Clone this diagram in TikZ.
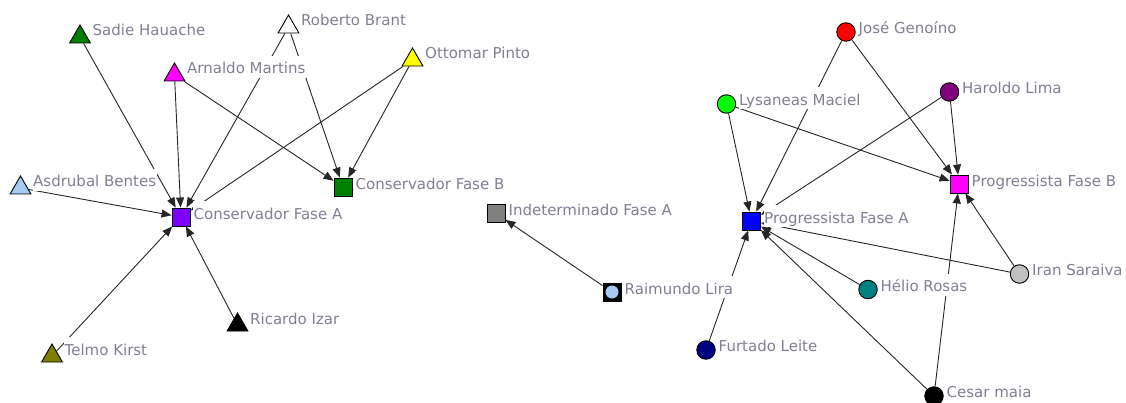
\documentclass[tikz,border=0pt]{standalone}
\usepackage{fontspec}
\setmainfont{DejaVu Sans}
\usetikzlibrary{arrows.meta,shapes.geometric,calc}
\definecolor{labc}{RGB}{128,128,148}
\definecolor{cgreen}{RGB}{0,128,0}
\definecolor{cmag}{RGB}{255,0,255}
\definecolor{cyel}{RGB}{255,255,0}
\definecolor{clblue}{RGB}{166,202,240}
\definecolor{cpurp}{RGB}{128,0,255}
\definecolor{colive}{RGB}{128,128,0}
\definecolor{cgray}{RGB}{128,128,128}
\definecolor{cred}{RGB}{255,0,0}
\definecolor{cviolet}{RGB}{128,0,128}
\definecolor{clime}{RGB}{0,255,0}
\definecolor{cblue}{RGB}{0,0,255}
\definecolor{csilver}{RGB}{192,192,192}
\definecolor{cteal}{RGB}{0,128,128}
\definecolor{cnavy}{RGB}{0,0,128}
\begin{document}
\begin{tikzpicture}[x=1pt,y=-1pt,
  sq/.style={draw=black,line width=0.9pt,rectangle,minimum size=18pt,inner sep=0pt},
  cir/.style={draw=black,line width=0.9pt,circle,minimum size=18.5pt,inner sep=0pt},
  tri/.style={draw=black,line width=0.9pt,regular polygon,regular polygon sides=3,minimum size=24pt,inner sep=0pt},
  lab/.style={anchor=base west,fill=white,text=labc,inner xsep=0.5pt,inner ysep=0pt,text height=18pt,text depth=4pt,font=\fontsize{15}{18}\selectfont},
  edge/.style={draw=black!85,line width=0.9pt,-{Triangle[length=10pt,width=8pt]}}
]
\useasboundingbox (0,0) rectangle (1126,403);
% left cluster
\node[tri,fill=cgreen] (sadie) at (80,37) {};
\node[tri,fill=cmag] (arnaldo) at (174.5,75) {};
\node[tri,fill=white] (roberto) at (288.5,27) {};
\node[tri,fill=cyel] (ottomar) at (412.5,60) {};
\node[tri,fill=clblue] (asdrubal) at (20.5,188) {};
\node[tri,fill=black] (ricardo) at (237.5,325) {};
\node[tri,fill=colive] (telmo) at (52,356) {};
\node[sq,fill=cpurp] (consA) at (181,217) {};
\node[sq,fill=cgreen] (consB) at (343,187) {};
% middle
\node[sq,fill=cgray] (indA) at (496,213.5) {};
\node[sq,fill=black,path picture={\fill[clblue] (path picture bounding box.center) circle (6.5pt);}] (raimundo) at (612,292) {};
% right cluster
\node[cir,fill=cred] (jose) at (846,32) {};
\node[cir,fill=cviolet] (haroldo) at (949.5,92) {};
\node[cir,fill=clime] (lysaneas) at (726.5,104) {};
\node[cir,fill=csilver] (iran) at (1019.5,274) {};
\node[cir,fill=cteal] (helio) at (868,289.5) {};
\node[cir,fill=cnavy] (furtado) at (706,350) {};
\node[cir,fill=black] (cesar) at (934,396) {};
\node[sq,fill=cmag] (progB) at (959,184) {};
\node[sq,fill=cblue] (progA) at (751.5,221) {};
% edges
\draw[edge] (sadie) -- (consA);
\draw[edge] (arnaldo) -- (consA);
\draw[edge] (arnaldo) -- (consB);
\draw[edge] (roberto) -- (consA);
\draw[edge] (roberto) -- (consB);
\draw[edge] (ottomar) -- (consA);
\draw[edge] (ottomar) -- (consB);
\draw[edge] (asdrubal) -- (consA);
\draw[edge] (telmo) -- (consA);
\draw[edge] (ricardo) -- (consA);
\draw[edge] (raimundo) -- (indA);
\draw[edge] (jose) -- (progA);
\draw[edge] (jose) -- (progB);
\draw[edge] (haroldo) -- (progA);
\draw[edge] (haroldo) -- (progB);
\draw[edge] (lysaneas) -- (progA);
\draw[edge] (lysaneas) -- (progB);
\draw[edge] (iran) -- (progA);
\draw[edge] (iran) -- (progB);
\draw[edge] (helio) -- (progA);
\draw[edge] (furtado) -- (progA);
\draw[edge] (cesar) -- (progA);
\draw[edge] (cesar) -- (progB);
% labels
\node[lab] (lsadie) at ($(sadie.center)+(12,-1)$) {Sadie Hauache};
\node[lab] (larnaldo) at ($(arnaldo.center)+(12,-1)$) {Arnaldo Martins};
\node[lab] (lroberto) at ($(roberto.center)+(12,-1)$) {Roberto Brant};
\node[lab] (lottomar) at ($(ottomar.center)+(12,-1)$) {Ottomar Pinto};
\node[lab] (lasdrubal) at ($(asdrubal.center)+(12,-1)$) {Asdrubal Bentes};
\node[lab] (lricardo) at ($(ricardo.center)+(12,-1)$) {Ricardo Izar};
\node[lab] (ltelmo) at ($(telmo.center)+(12,-1)$) {Telmo Kirst};
\node[lab] (lconsA) at ($(consA.center)+(12,2.5)$) {Conservador Fase A};
\node[lab] (lconsB) at ($(consB.center)+(12,2.5)$) {Conservador Fase B};
\node[lab] (lindA) at ($(indA.center)+(12,2.5)$) {Indeterminado Fase A};
\node[lab] (lraimundo) at ($(raimundo.center)+(12,2)$) {Raimundo Lira};
\node[lab] (ljose) at ($(jose.center)+(12,1.5)$) {José Genoíno};
\node[lab] (lharoldo) at ($(haroldo.center)+(12,1.5)$) {Haroldo Lima};
\node[lab] (llysaneas) at ($(lysaneas.center)+(12,1.5)$) {Lysaneas Maciel};
\node[lab] (liran) at ($(iran.center)+(12,1.5)$) {Iran Saraiva};
\node[lab] (lhelio) at ($(helio.center)+(12,2)$) {Hélio Rosas};
\node[lab] (lfurtado) at ($(furtado.center)+(12,1.5)$) {Furtado Leite};
\node[lab] (lcesar) at ($(cesar.center)+(12,1.5)$) {Cesar maia};
\node[lab] (lprogB) at ($(progB.center)+(12,2.5)$) {Progressista Fase B};
\node[lab] (lprogA) at ($(progA.center)+(12,2.5)$) {Progressista Fase A};
\end{tikzpicture}
\end{document}
